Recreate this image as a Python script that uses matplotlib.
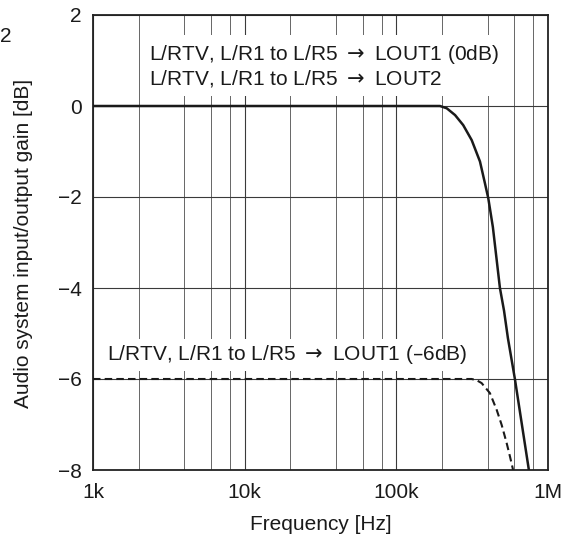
import numpy as np
import matplotlib
matplotlib.use("Agg")
import matplotlib.pyplot as plt
from matplotlib.ticker import FixedLocator, NullFormatter

plt.rcParams['font.family'] = ['Liberation Sans', 'DejaVu Sans']

# Data
solid_freq = [1000, 100000, 180000, 194000, 215000, 244000, 276000, 314000, 356000,
              384000, 404000, 433000, 482000, 513000, 544000, 605000, 748000]
solid_gain = [0, 0, 0, 0, -0.05, -0.2, -0.42, -0.75, -1.22,
              -1.70, -2.03, -2.66, -4.0, -4.5, -5.1, -6.0, -8.0]

dash_freq = [1000, 100000, 290000, 314000, 340000, 365000, 414000, 459000, 495000,
             534000, 562000, 585000, 588000]
dash_gain = [-6, -6, -6, -6.0, -6.03, -6.09, -6.31, -6.68, -7.01,
             -7.41, -7.71, -7.96, -8.0]

xticks = [1e3, 1e4, 1e5, 1e6]
xticklabels = ['1k', '10k', '100k', '1M']
yticks = [2, 0, -2, -4, -6, -8]
yticklabels = ['2', '0', '\u22122', '\u22124', '\u22126', '\u22128']

label_top = 'L/RTV, L/R1 to L/R5 $\\rightarrow$ LOUT1 (0dB)\nL/RTV, L/R1 to L/R5 $\\rightarrow$ LOUT2'
label_bot = 'L/RTV, L/R1 to L/R5 $\\rightarrow$ LOUT1 (\u20136dB)'

FS = 15

fig = plt.figure(figsize=(5.78, 5.4), dpi=100)
ax = fig.add_axes([93/578, 1-470/540, (548-93)/578, (470-15)/540])

ax.set_xscale('log')
ax.set_xlim(1e3, 1e6)
ax.set_ylim(-8, 2)

ax.xaxis.set_major_locator(FixedLocator(xticks))
ax.set_xticklabels(xticklabels)
minor = [m * 10**d for d in range(3, 6) for m in (2, 4, 6, 8)]
ax.xaxis.set_minor_locator(FixedLocator(minor))
ax.xaxis.set_minor_formatter(NullFormatter())
ax.set_yticks(yticks)
ax.set_yticklabels(yticklabels)

ax.grid(True, which='major', color='#3a3a3a', linewidth=0.8)
ax.grid(True, which='minor', axis='x', color='#666666', linewidth=0.7)
ax.set_axisbelow(True)

ax.tick_params(which='both', length=0, labelsize=FS, colors='#1a1a1a')
ax.tick_params(axis='y', pad=8)
ax.tick_params(axis='x', pad=9)
for s in ax.spines.values():
    s.set_linewidth(1.3)
    s.set_color('#222222')

ax.plot(solid_freq, solid_gain, color='#1a1a1a', linewidth=1.8, zorder=4)
ax.plot(dash_freq, dash_gain, color='#1a1a1a', linewidth=1.5,
        linestyle=(0, (3.6, 2.0)), zorder=4)

ax.text(2340, 0.88, label_top, fontsize=FS, color='#1a1a1a', va='center', ha='left',
        linespacing=1.1, zorder=3,
        bbox=dict(facecolor='white', edgecolor='none', pad=5))
ax.text(1237, -5.47, label_bot, fontsize=FS, color='#1a1a1a', va='center', ha='left',
        zorder=3, bbox=dict(facecolor='white', edgecolor='none', pad=3))

ax.set_xlabel('Frequency [Hz]', fontsize=FS, color='#1a1a1a', labelpad=10)
fig.text(24/578, 1-243/540, 'Audio system input/output gain [dB]', rotation=90,
         fontsize=FS, color='#1a1a1a', ha='center', va='center')
fig.text(0.0, 1-36/540, '2', fontsize=FS, color='#1a1a1a', ha='left', va='center')

fig.savefig('out.png', dpi=100)
